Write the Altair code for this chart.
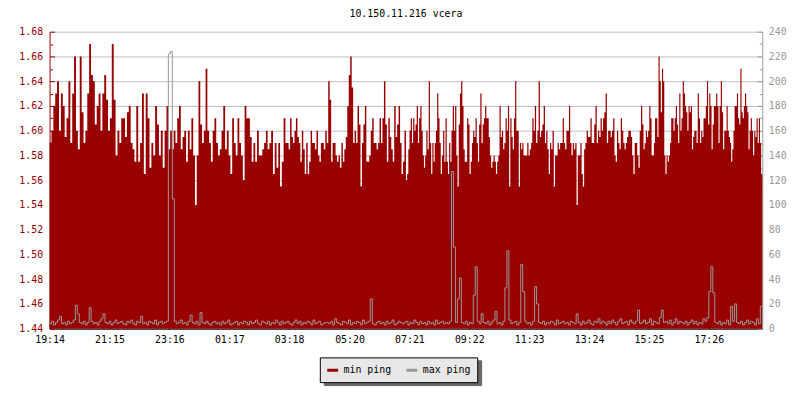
import altair as alt
import pandas as pd

# ---- data ----
tick_labels = ["19:14", "21:15", "23:16", "01:17", "03:18", "05:20",
               "07:21", "09:22", "11:23", "13:24", "15:25", "17:26"]
tick_minutes = [0, 121, 242, 363, 484, 606, 727, 848, 969, 1090, 1211, 1332]

# min ping, six 4-hour blocks (minutes 0-240, 240-480, ...)
min_seg1 = [1.59, 1.60, 1.62, 1.63, 1.64, 1.60, 1.63, 1.62, 1.595, 1.61, 1.64, 1.59, 1.63, 1.66, 1.60,
            1.585, 1.66, 1.615, 1.59, 1.60, 1.63, 1.67, 1.645, 1.64, 1.605, 1.62, 1.63, 1.60, 1.63,
            1.645, 1.625, 1.60, 1.61, 1.67, 1.625, 1.58, 1.60, 1.59, 1.61, 1.61, 1.595, 1.615, 1.62,
            1.59, 1.585, 1.575, 1.62, 1.575, 1.59, 1.63, 1.565, 1.63, 1.61, 1.57, 1.59, 1.58, 1.62,
            1.605, 1.58, 1.60, 1.57, 1.60, 1.62]
min_seg2 = [1.585, 1.60, 1.585, 1.60, 1.59, 1.61, 1.62, 1.585, 1.595, 1.60, 1.575, 1.60, 1.585, 1.61,
            1.58, 1.54, 1.58, 1.64, 1.605, 1.59, 1.60, 1.65, 1.60, 1.59, 1.575, 1.60, 1.61, 1.59, 1.58,
            1.585, 1.60, 1.62, 1.585, 1.60, 1.58, 1.565, 1.61, 1.59, 1.58, 1.61, 1.59, 1.58, 1.56, 1.62,
            1.61, 1.61, 1.595, 1.575, 1.59, 1.575, 1.60, 1.58, 1.58, 1.585, 1.59, 1.60, 1.585, 1.59,
            1.60, 1.565, 1.59, 1.57, 1.59, 1.555, 1.575, 1.61, 1.59]
min_seg3 = [1.59, 1.585, 1.61, 1.595, 1.59, 1.60, 1.61, 1.595, 1.59, 1.575, 1.60, 1.585, 1.565, 1.59,
            1.565, 1.575, 1.60, 1.59, 1.59, 1.585, 1.60, 1.58, 1.575, 1.59, 1.59, 1.585, 1.60, 1.59,
            1.64, 1.625, 1.575, 1.59, 1.59, 1.58, 1.575, 1.58, 1.57, 1.59, 1.575, 1.585, 1.595, 1.62,
            1.645, 1.66, 1.635, 1.59, 1.60, 1.59, 1.62, 1.605, 1.555, 1.59, 1.605, 1.62, 1.575, 1.575,
            1.58, 1.60, 1.61, 1.59, 1.59, 1.585, 1.59, 1.61, 1.59, 1.61, 1.64, 1.605, 1.575, 1.61,
            1.595, 1.585, 1.575, 1.62, 1.595, 1.605, 1.62, 1.59, 1.565, 1.575, 1.60]
min_seg4 = [1.56, 1.565, 1.585, 1.60, 1.61, 1.59, 1.61, 1.60, 1.605, 1.62, 1.59, 1.61, 1.62, 1.60, 1.58,
            1.57, 1.58, 1.60, 1.585, 1.64, 1.59, 1.565, 1.59, 1.575, 1.59, 1.60, 1.63, 1.61, 1.59,
            1.565, 1.58, 1.60, 1.575, 1.61, 1.575, 1.565, 1.59, 1.575, 1.60, 1.62, 1.60, 1.62, 1.58,
            1.555, 1.605, 1.63, 1.64, 1.62, 1.585, 1.575, 1.575, 1.61, 1.605, 1.565, 1.575, 1.59, 1.60,
            1.595, 1.61, 1.59, 1.575, 1.605, 1.63, 1.59, 1.605, 1.61, 1.62, 1.61, 1.61, 1.595, 1.58,
            1.57, 1.575, 1.58, 1.575, 1.565, 1.575, 1.58, 1.62, 1.595, 1.60, 1.585, 1.59, 1.61, 1.60,
            1.62, 1.555, 1.61, 1.595, 1.585, 1.61, 1.64, 1.60, 1.60, 1.555, 1.59, 1.585, 1.59, 1.58]
min_seg5 = [1.58, 1.58, 1.59, 1.58, 1.585, 1.59, 1.61, 1.60, 1.62, 1.59, 1.60, 1.64, 1.595, 1.60, 1.605,
            1.62, 1.59, 1.60, 1.585, 1.565, 1.59, 1.585, 1.60, 1.555, 1.58, 1.58, 1.59, 1.585, 1.59,
            1.59, 1.61, 1.59, 1.585, 1.60, 1.60, 1.62, 1.59, 1.58, 1.59, 1.585, 1.59, 1.54, 1.58, 1.58,
            1.59, 1.565, 1.555, 1.585, 1.59, 1.60, 1.595, 1.595, 1.61, 1.59, 1.59, 1.605, 1.62, 1.59,
            1.60, 1.595, 1.61, 1.60, 1.61, 1.615, 1.63, 1.59, 1.60, 1.60, 1.595, 1.60, 1.61, 1.58,
            1.575, 1.60, 1.59, 1.585, 1.61, 1.60, 1.59, 1.585, 1.59, 1.595, 1.60, 1.60, 1.595, 1.58,
            1.565, 1.59, 1.59, 1.58, 1.57, 1.60, 1.62, 1.605]
min_seg6 = [1.585, 1.59, 1.60, 1.595, 1.60, 1.62, 1.61, 1.58, 1.58, 1.59, 1.61, 1.61, 1.595, 1.66, 1.64,
            1.615, 1.65, 1.64, 1.58, 1.565, 1.58, 1.575, 1.58, 1.59, 1.61, 1.61, 1.60, 1.61, 1.62,
            1.605, 1.59, 1.63, 1.60, 1.61, 1.64, 1.63, 1.62, 1.615, 1.60, 1.62, 1.615, 1.62, 1.585,
            1.595, 1.60, 1.60, 1.59, 1.63, 1.61, 1.59, 1.60, 1.595, 1.61, 1.61, 1.62, 1.64, 1.605, 1.63,
            1.62, 1.585, 1.605, 1.62, 1.62, 1.63, 1.62, 1.59, 1.62, 1.64, 1.615, 1.585, 1.60, 1.60,
            1.62, 1.60, 1.595, 1.59, 1.575, 1.585, 1.60, 1.62, 1.62, 1.63, 1.61, 1.605, 1.65, 1.615,
            1.61, 1.62, 1.63, 1.62, 1.615, 1.585, 1.60, 1.61, 1.60, 1.58, 1.60, 1.595, 1.61, 1.59,
            1.61, 1.59, 1.565]

# max ping, one sample every 4 minutes
max_ping = [
    4, 6, 3, 5, 7, 10, 4, 5, 3, 6, 4, 5, 7, 19, 12, 5, 4, 6, 3, 5,
    17, 6, 4, 5, 3, 6, 8, 12, 5, 4, 6, 3, 5, 7, 4, 5, 6, 4, 3, 6,
    5, 7, 4, 3, 6, 5, 10, 4, 5, 3, 6, 5, 4, 7, 3, 5, 6, 4, 5, 6,
    222, 224, 105, 6, 4, 5, 7, 4, 5, 3, 6, 11, 5, 4, 6, 3, 13, 5, 4, 6,
    4, 3, 5, 6, 4, 5, 3, 6, 4, 5, 7, 3, 4, 5, 6, 3, 5, 4, 6, 5,
    3, 6, 4, 5, 7, 4, 3, 6, 5, 4, 6, 3, 5, 4, 7, 5, 3, 6, 4, 5,
    6, 4, 3, 5, 7, 4, 6, 3, 5, 4, 6, 5, 3, 7, 4, 5, 6, 3, 4, 5,
    5, 4, 6, 3, 8, 5, 4, 3, 6, 5, 4, 7, 3, 5, 4, 6, 5, 3, 7, 4,
    5, 6, 24, 4, 3, 5, 6, 4, 5, 3, 6, 4, 5, 7, 3, 4, 6, 5, 4, 5,
    6, 3, 5, 4, 7, 5, 3, 6, 4, 5, 3, 6, 4, 5, 3, 7, 4, 5, 6, 4,
    5, 4, 6, 127, 66, 5, 24, 41, 5, 4, 6, 3, 5, 4, 27, 50, 6, 4, 12, 5,
    4, 6, 3, 5, 7, 14, 4, 5, 3, 6, 33, 63, 7, 4, 5, 6, 3, 5, 52, 30,
    6, 4, 5, 3, 6, 34, 20, 5, 4, 6, 3, 5, 4, 6, 5, 3, 7, 4, 5, 6,
    4, 5, 3, 6, 5, 4, 12, 5, 3, 6, 4, 5, 7, 4, 3, 6, 5, 8, 4, 6,
    5, 3, 6, 4, 7, 5, 3, 6, 8, 4, 5, 6, 3, 7, 5, 4, 6, 15, 4, 5,
    7, 4, 5, 8, 3, 6, 5, 4, 9, 15, 5, 6, 4, 7, 3, 5, 8, 4, 6, 5,
    4, 6, 3, 5, 7, 4, 6, 3, 5, 4, 8, 6, 9, 30, 50, 29, 5, 4, 6, 3,
    5, 4, 7, 3, 18, 6, 20, 5, 4, 6, 3, 5, 7, 4, 6, 5, 3, 8, 4, 18,
]

left_major = [1.44, 1.46, 1.48, 1.50, 1.52, 1.54, 1.56, 1.58, 1.60, 1.62, 1.64, 1.66, 1.68]
left_all = [round(1.44 + 0.01 * k, 2) for k in range(25)]
right_major = list(range(0, 241, 20))
right_all = list(range(0, 241, 10))
series_names = ["min ping", "max ping"]
shadow_names = ["min-ping", "max-ping"]  # same width, used only for the legend's drop shadow

# ---- build tables ----
SPAN = 1440
segs = [min_seg1, min_seg2, min_seg3, min_seg4, min_seg5, min_seg6]
rows = []
for k, seg in enumerate(segs):
    n = len(seg)
    for j, v in enumerate(seg):
        rows.append({"t": k * 240 + j * 240 / n, "v": v})
rows.append({"t": SPAN, "v": segs[-1][-1]})
min_df = pd.DataFrame(rows)
min_df["base"] = 1.44
min_df["series"] = "min ping"
min_df["shadow"] = "min-ping"

step = SPAN / len(max_ping)
mrows = [{"t": i * step, "v": v} for i, v in enumerate(max_ping)]
mrows.append({"t": SPAN, "v": max_ping[-1]})
max_df = pd.DataFrame(mrows)
max_df["series"] = "max ping"

MONO = "DejaVu Sans Mono"
RED = "#990000"
GRAY = "#999999"
SHADOW = "#666666"

x_scale = alt.Scale(domain=[0, SPAN], nice=False, zero=False)
yl_scale = alt.Scale(domain=[1.44, 1.68], nice=False, zero=False)
yr_scale = alt.Scale(domain=[0, 240], nice=False, zero=False)
color_scale = alt.Scale(domain=series_names, range=[RED, GRAY])

lab_js = "[" + ",".join("'%s'" % s for s in tick_labels) + "]"
pos_js = "[" + ",".join(str(m) for m in tick_minutes) + "]"
x_label_expr = "%s[indexof(%s, datum.value)]" % (lab_js, pos_js)

legend_common = dict(title=None, orient="none", direction="horizontal", symbolType="stroke",
                     symbolStrokeWidth=3, symbolSize=121, labelFont=MONO, labelFontSize=10,
                     labelOffset=4, columnPadding=8, padding=6)

area = alt.Chart(min_df).mark_area(interpolate="step-after", opacity=1).encode(
    x=alt.X("t:Q", scale=x_scale, title=None,
            axis=alt.Axis(orient="bottom", values=tick_minutes, labelExpr=x_label_expr,
                          ticks=False, tickSize=0, grid=False, domainColor="black",
                          domainWidth=1, labelColor="black", labelFont=MONO, labelFontSize=10,
                          labelPadding=6, labelFlush=False, labelOverlap=False)),
    y=alt.Y("v:Q", scale=yl_scale, title=None,
            axis=alt.Axis(orient="left", values=left_major, format=".2f", ticks=False,
                          tickSize=0, grid=True, gridColor="#c0c0c0", gridWidth=1,
                          domainColor=RED, labelColor=RED, labelFont=MONO, labelFontSize=10,
                          labelPadding=7, labelOverlap=False)),
    y2="base:Q",
    fill=alt.value(RED),
)

line = alt.Chart(max_df).mark_line(interpolate="step-after", strokeWidth=1).encode(
    x=alt.X("t:Q", scale=x_scale, axis=None),
    y=alt.Y("v:Q", scale=yr_scale, title=None,
            axis=alt.Axis(orient="right", values=right_major, ticks=False, tickSize=0,
                          grid=False, domainColor=GRAY, labelColor=GRAY, labelFont=MONO,
                          labelFontSize=10, labelPadding=6, labelOverlap=False)),
    color=alt.Color("series:N", scale=color_scale,
                    legend=alt.Legend(legendX=273, legendY=329, labelColor="black",
                                      fillColor="#e8e8e8", strokeColor="black", zindex=2,
                                      **legend_common)),
)

ticks_left = alt.Chart(min_df).mark_line(opacity=0).encode(
    x=alt.X("t:Q", scale=x_scale, title=None,
            axis=alt.Axis(orient="top", offset=-300, values=tick_minutes, labels=False,
                          domain=False, ticks=True, tickSize=5, tickColor="black",
                          grid=False)),
    y=alt.Y("v:Q", scale=yl_scale, title=None,
            axis=alt.Axis(orient="right", offset=-720, values=left_all, labels=False,
                          domain=False, ticks=True, tickColor=RED, grid=False,
                          tickSize={"condition": {"test": "round(datum.value*100) % 2 == 0", "value": 5},
                                    "value": 3})),
    strokeDash=alt.StrokeDash("shadow:N", scale=alt.Scale(domain=shadow_names),
                              legend=alt.Legend(legendX=277, legendY=332,
                                                labelColor=SHADOW, labelOpacity=0,
                                                symbolStrokeColor=SHADOW,
                                                fillColor=SHADOW, strokeColor=SHADOW, zindex=1,
                                                **legend_common)),
)

ticks_right = alt.Chart(max_df).mark_line(opacity=0).encode(
    x=alt.X("t:Q", scale=x_scale, axis=None),
    y=alt.Y("v:Q", scale=yr_scale, title=None,
            axis=alt.Axis(orient="left", offset=-720, values=right_all, labels=False,
                          domain=False, ticks=True, tickColor=GRAY, grid=False,
                          tickSize={"condition": {"test": "datum.value % 20 == 0", "value": 5},
                                    "value": 3})),
)

chart = alt.layer(area, line, ticks_left, ticks_right).resolve_scale(
    x="independent", y="independent"
).properties(
    width=720,
    height=300,
    title=alt.TitleParams("10.150.11.216 vcera", font=MONO, fontSize=10, fontWeight="normal",
                          color="black", anchor="middle", offset=8),
    autosize=alt.AutoSizeParams(type="none"),
    padding={"left": 42, "top": 22, "right": 30, "bottom": 60},
    background="white",
).configure_view(strokeWidth=0)

chart.save("out.html", embed_options={"renderer": "svg", "actions": False})
